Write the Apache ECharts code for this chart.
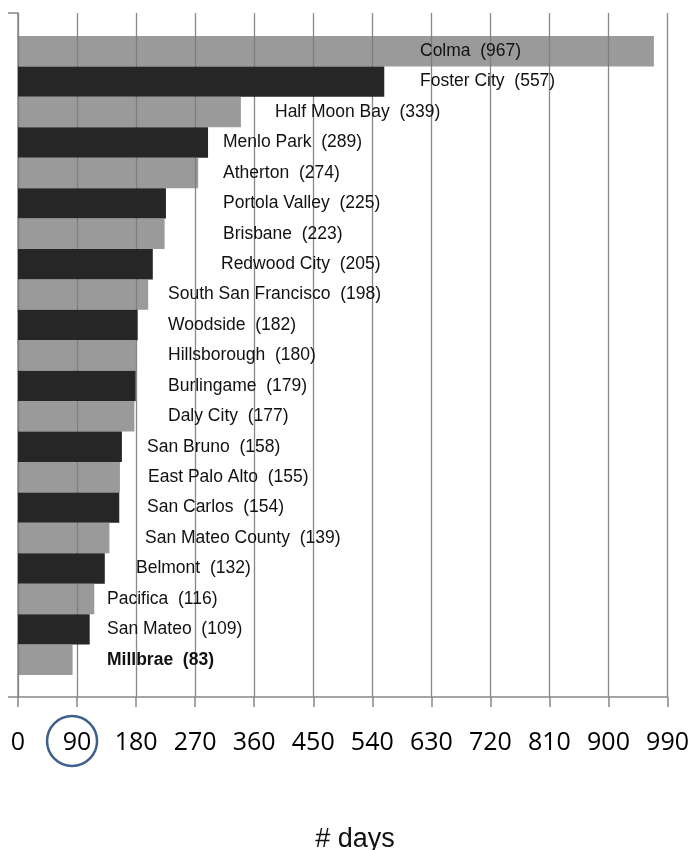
<!DOCTYPE html>
<html>
<head>
<meta charset="utf-8">
<style>
  html, body { margin: 0; padding: 0; background: #fff; }
  #chart { width: 692px; height: 850px; }
</style>
<script src="https://cdn.jsdelivr.net/npm/echarts@6/dist/echarts.min.js"></script>
</head>
<body>
<div id="chart"></div>
<script>
// Cities, top to bottom
const cities = [
  'Colma', 'Foster City', 'Half Moon Bay', 'Menlo Park', 'Atherton',
  'Portola Valley', 'Brisbane', 'Redwood City', 'South San Francisco', 'Woodside',
  'Hillsborough', 'Burlingame', 'Daly City', 'San Bruno', 'East Palo Alto',
  'San Carlos', 'San Mateo County', 'Belmont', 'Pacifica', 'San Mateo', 'Millbrae'
];
// Number of days per city
const days = [
  967, 557, 339, 289, 274,
  225, 223, 205, 198, 182,
  180, 179, 177, 158, 155,
  154, 139, 132, 116, 109, 83
];
// Axis ticks
const axisMin = 0;
const axisMax = 990;
const axisStep = 90;
const highlighted = 'Millbrae';
const circledTick = 90;

// Label inset (px from the axis origin) for each city's text
const labelInset = [
  402, 402, 257, 205, 205,
  205, 205, 203, 150, 150,
  150, 150, 150, 129, 130,
  129, 127, 118, 89, 89, 89
];

const GRAY = 'rgba(124,124,124,0.77)';
const DARK = '#262626';
const LINE = '#888888';

const chart = echarts.init(document.getElementById('chart'), null, { renderer: 'canvas' });

const barData = days.map((v, i) => ({
  value: v,
  itemStyle: { color: i % 2 === 0 ? GRAY : DARK },
  label: {
    show: true,
    position: [labelInset[i], '50%'],
    verticalAlign: 'middle',
    align: 'left',
    formatter: cities[i] + '  (' + v + ')',
    fontFamily: 'Liberation Sans',
    fontSize: 17.5,
    fontWeight: cities[i] === highlighted ? 'bold' : 'normal',
    color: '#111'
  }
}));

chart.setOption({
  animation: false,
  backgroundColor: '#fff',
  grid: [
    { left: 18, right: 23, top: 36, bottom: 175 },
    { left: 18, right: 23, top: 13, bottom: 153 }
  ],
  xAxis: [
    {
      gridIndex: 0, type: 'value', min: axisMin, max: axisMax, interval: axisStep,
      show: false
    },
    {
      gridIndex: 1, type: 'value', min: axisMin, max: axisMax, interval: axisStep,
      axisLine: { show: true, lineStyle: { color: LINE, width: 1.5 } },
      axisTick: { show: true, inside: false, length: 10, lineStyle: { color: LINE, width: 1.5 } },
      axisLabel: {
        show: true, margin: 33, fontFamily: 'Open Sans', fontSize: 25, color: '#000',
        showMinLabel: true, showMaxLabel: true
      },
      splitLine: { show: true, lineStyle: { color: LINE, width: 1.3 } },
      z: 0
    }
  ],
  yAxis: [
    {
      gridIndex: 0, type: 'category', data: cities, inverse: true,
      show: false
    },
    {
      gridIndex: 1, type: 'value', min: 0, max: 1, interval: 1,
      axisLine: { show: true, lineStyle: { color: LINE, width: 1.5 } },
      axisTick: { show: true, inside: false, length: 10, lineStyle: { color: LINE, width: 1.5 } },
      axisLabel: { show: false },
      splitLine: { show: false },
      z: 0
    }
  ],
  series: [
    {
      type: 'bar',
      xAxisIndex: 0,
      yAxisIndex: 0,
      data: barData,
      barCategoryGap: '0%',
      barWidth: '100%',
      z: 3
    }
  ]
});

// Circle around the highlighted tick label and the axis title
const cx = chart.convertToPixel({ xAxisIndex: 1 }, circledTick) - 5;
const axisY = chart.convertToPixel({ yAxisIndex: 1 }, 0);
chart.setOption({
  graphic: [
    {
      type: 'circle',
      shape: { cx: cx, cy: axisY + 44, r: 25 },
      style: { fill: 'none', stroke: '#3d5f8e', lineWidth: 2.5 },
      z: 10
    },
    {
      type: 'text',
      x: 355,
      y: 840,
      style: {
        text: '# days',
        fontFamily: 'Liberation Sans',
        fontSize: 27,
        fill: '#111',
        align: 'center',
        verticalAlign: 'middle'
      },
      z: 10
    }
  ]
});
</script>
</body>
</html>
